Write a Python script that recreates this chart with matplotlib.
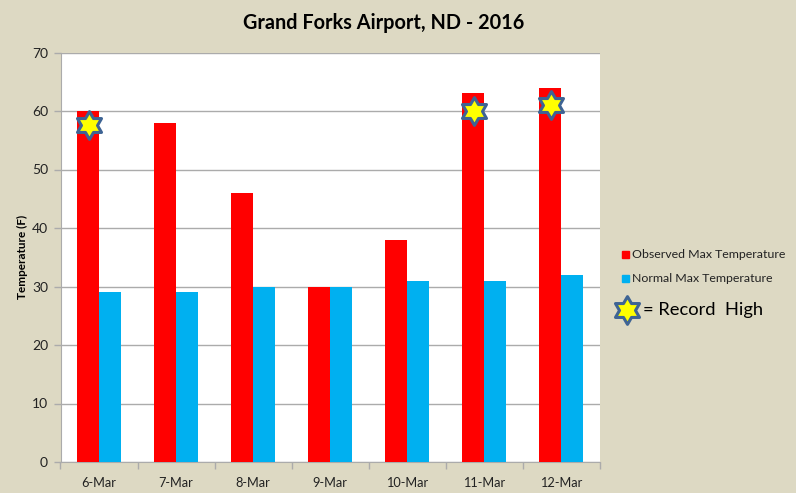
import matplotlib
matplotlib.use("Agg")
import matplotlib.pyplot as plt
import numpy as np
from matplotlib.lines import Line2D
from matplotlib.patches import Rectangle
from matplotlib.path import Path

dates = ["6-Mar", "7-Mar", "8-Mar", "9-Mar", "10-Mar", "11-Mar", "12-Mar"]
observed = [60, 58, 46, 30, 38, 63, 64]
normal = [29, 29, 30, 30, 31, 31, 32]
record_idx = [0, 5, 6]
record_y = [57.6, 60, 61]
record_dx = [-0.13, -0.13, -0.13]

W, H = 796, 493
BG = "#DDD9C3"
plt.rcParams["font.family"] = ["Lato", "DejaVu Sans"]
fig = plt.figure(figsize=(W / 100, H / 100), dpi=100, facecolor=BG)
L, R, T, B = 60.5, 600, 52.5, 462
ax = fig.add_axes([L / W, 1 - B / H, (R - L) / W, (B - T) / H], facecolor="white")

x = np.arange(len(dates))
bw = 22 / 77
ax.bar(x - bw / 2, observed, bw, color="#FF0000", zorder=3)
ax.bar(x + bw / 2, normal, bw, color="#00B0F0", zorder=3)
ax.set_xlim(-0.5, 6.5)
ax.set_ylim(0, 70)
ax.set_yticks(range(0, 71, 10))
ax.yaxis.grid(True, color="#ABABAB", lw=1, zorder=1)
ax.set_axisbelow(True)
ax.set_xticks(x)
ax.set_xticklabels(dates)
ax.set_xticks(np.arange(-0.5, 7, 1), minor=True)
ax.tick_params(axis="x", which="major", length=0, pad=11, labelsize=9.2, colors="#222222")
ax.tick_params(axis="x", which="minor", length=5, color="#ABABAB", width=1)
ax.tick_params(axis="y", length=5, color="#ABABAB", width=1, pad=4, labelsize=10, labelcolor="#222222")
for s in ("top", "right"):
    ax.spines[s].set_visible(False)
for s in ("left", "bottom"):
    ax.spines[s].set_color("#ABABAB")
ax.set_ylabel("Temperature (F)", fontsize=8.5, fontweight="bold", color="black", labelpad=3)

hexagram = Path.unit_regular_star(6, innerCircle=0.577)
star = dict(marker=hexagram, ms=20, mfc="#FFFF00", mec="#3E6494", mew=2.2, ls="none")
ax.plot([x[i] + d for i, d in zip(record_idx, record_dx)], record_y, zorder=5, clip_on=False, **star)

fig.text(384 / W, 1 - 23 / H, "Grand Forks Airport, ND - 2016", ha="center", va="center",
         fontsize=14.3, fontweight="bold", color="black")

for y, c, label in [(254.5, "#FF0000", "Observed Max Temperature"), (278.5, "#00B0F0", "Normal Max Temperature")]:
    fig.add_artist(Rectangle((622 / W, 1 - (y + 3.5) / H), 7 / W, 7 / H, color=c, transform=fig.transFigure))
    fig.text(632 / W, 1 - y / H, label, va="center", fontsize=8.9, color="#222222")
fig.add_artist(Line2D([627 / W], [1 - 310 / H], transform=fig.transFigure, **star))
fig.text(643 / W, 1 - 310 / H, "= Record  High", va="center", fontsize=13.2, color="black")

fig.savefig("out.png", dpi=100, facecolor=BG)
